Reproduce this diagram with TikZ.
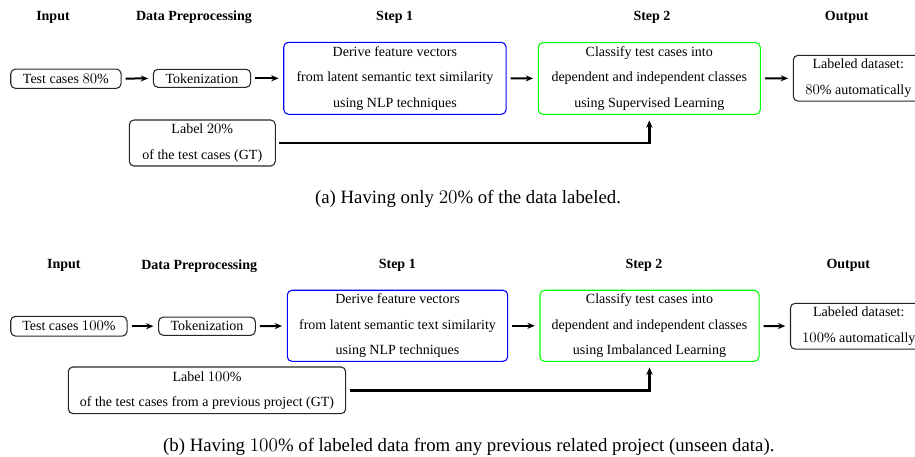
\documentclass[tikz,border=0pt]{standalone}
\usepackage{fontspec}
\setmainfont{Liberation Serif}
\usetikzlibrary{arrows.meta}

\tikzset{
  box/.style={draw=black!85, line width=0.8pt, rounded corners=3.5pt,
    inner sep=0pt, align=center, font=\fontsize{10.5}{19}\selectfont},
  bluebox/.style={box, draw=blue},
  greenbox/.style={box, draw=green},
  hdr/.style={font=\fontsize{10.5}{12}\selectfont\bfseries},
  captext/.style={font=\fontsize{14.1}{16}\selectfont},
  arr/.style={-{Stealth[length=5.5pt,width=4.5pt]}, line width=1.5pt,
    shorten <=3pt, shorten >=3.5pt},
  link/.style={-{Stealth[length=5.5pt,width=4.8pt]}, line width=1.9pt,
    shorten <=2.5pt, shorten >=4.2pt},
}

\begin{document}
\begin{tikzpicture}[x=0.75pt,y=-0.75pt]
\path[use as bounding box] (0,0) rectangle (915,457);
\clip (0,0) rectangle (915,457);

% ---------- (a) 20% labeled ----------
\node[hdr] (hInA)  at (53,17.3)    {Input};
\node[hdr] (hPreA) at (194,17.3)   {Data Preprocessing};
\node[hdr] (hS1A)  at (394.7,17.3) {Step 1};
\node[hdr] (hS2A)  at (652,17.3)   {Step 2};
\node[hdr] (hOutA) at (846.7,17.3) {Output};

\node[box, minimum width=82.7pt, minimum height=14.5pt] (tcA) at (65.9,78.7) {Test cases $80\%$};
\node[box, minimum width=73pt, minimum height=13.5pt] (tokA) at (202,78.3) {Tokenization};
\node[bluebox, minimum width=166.7pt, minimum height=54pt] (s1A) at (394.9,78.3)
  {Derive feature vectors\\from latent semantic text similarity\\using NLP techniques};
\node[greenbox, minimum width=166.5pt, minimum height=53.7pt] (s2A) at (649.3,78.5)
  {Classify test cases into\\dependent and independent classes\\using Supervised Learning};
\node[box, minimum width=97.5pt, minimum height=34.3pt] (outA) at (858.3,78.2)
  {Labeled dataset:\\$80\%$ automatically};
\node[box, minimum width=109.5pt, minimum height=34.5pt] (labA) at (202.3,143)
  {Label $20\%$\\of the test cases (GT)};

\draw[arr] (tcA) -- (tokA);
\draw[arr] (tokA) -- (s1A);
\draw[arr] (s1A) -- (s2A);
\draw[arr] (s2A) -- (outA);
\draw[link] (labA.east) -- (labA.east -| s2A.south) -- (s2A.south);

\node[captext] (capA) at (468,199) {(a) Having only $20\%$ of the data labeled.};

% ---------- (b) 100% labeled from a previous project ----------
\node[hdr] (hInB)  at (63.8,265.7)  {Input};
\node[hdr] (hPreB) at (199.2,265.7) {Data Preprocessing};
\node[hdr] (hS1B)  at (397.3,265.7) {Step 1};
\node[hdr] (hS2B)  at (644,265.7)   {Step 2};
\node[hdr] (hOutB) at (848.3,265.7) {Output};

\node[box, minimum width=87.2pt, minimum height=14.8pt] (tcB) at (68.9,326.2) {Test cases $100\%$};
\node[box, minimum width=72.5pt, minimum height=13.7pt] (tokB) at (207,326.2) {Tokenization};
\node[bluebox, minimum width=165.3pt, minimum height=53.3pt] (s1B) at (397.5,325.8)
  {Derive feature vectors\\from latent semantic text similarity\\using NLP techniques};
\node[greenbox, minimum width=164.3pt, minimum height=53.3pt] (s2B) at (649.5,325.8)
  {Classify test cases into\\dependent and independent classes\\using Imbalanced Learning};
\node[box, minimum width=102.5pt, minimum height=34.3pt] (outB) at (858.8,326.2)
  {Labeled dataset:\\$100\%$ automatically};
\node[box, minimum width=208pt, minimum height=35pt] (labB) at (207,390.3)
  {Label $100\%$\\of the test cases from a previous project (GT)};

\draw[arr] (tcB) -- (tokB);
\draw[arr] (tokB) -- (s1B);
\draw[arr] (s1B) -- (s2B);
\draw[arr] (s2B) -- (outB);
\draw[link] (labB.east) -- (labB.east -| s2B.south) -- (s2B.south);

\node[captext] (capB) at (468.8,446.7)
  {(b) Having $100\%$ of labeled data from any previous related project (unseen data).};
\end{tikzpicture}
\end{document}
